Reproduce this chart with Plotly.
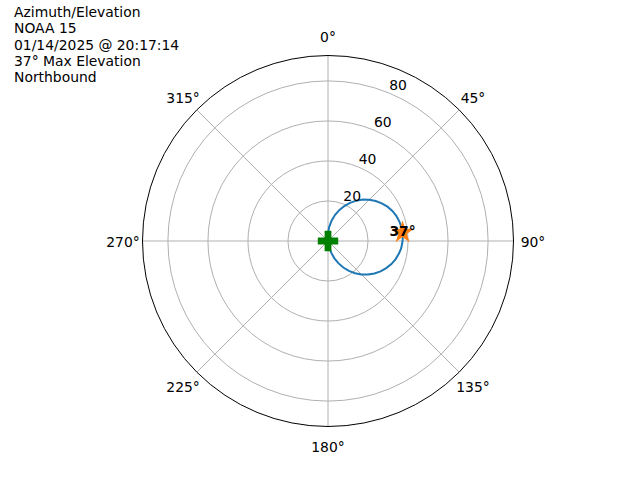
import plotly.graph_objects as go

# Pass track: azimuth (deg) and elevation (deg)
azimuth = [-6, -3, 0, 5, 10, 15, 20, 25, 30, 35, 40, 45, 50, 55, 60, 65, 70, 75, 80, 84,
           88, 92, 96, 100, 105, 110, 115, 120, 125, 130, 135, 140, 145, 150, 155, 160,
           165, 170, 174]
elevation = [0, 2.0, 3.9, 7.1, 10.3, 13.4, 16.4, 19.3, 22.0, 24.6, 27.0, 29.1, 31.1, 32.8,
             34.3, 35.5, 36.4, 37.0, 37.4, 37.5, 37.4, 37.1, 36.7, 36.0, 35.0, 33.7, 32.1,
             30.3, 28.3, 26.1, 23.6, 21.0, 18.2, 15.3, 12.2, 9.1, 5.9, 2.6, 0]

start_az = [0]
start_el = [0]
max_az = [83.5]
max_el = [37.5]
max_label = ["<b>37°</b>"]

title_lines = ["Azimuth/Elevation", "NOAA 15", "01/14/2025 @ 20:17:14", "37° Max Elevation", "Northbound"]

angle_ticks = [0, 45, 90, 135, 180, 225, 270, 315]
angle_labels = ["0°", "45°", "90°", "135°", "180°", "225°", "270°", "315°"]
radial_ticks = [20, 40, 60, 80]
radial_labels = ["20", "40", "60", "80"]

FONT = "DejaVu Sans"
FS = 13.9
RMAX = 92.7
RLABEL_ANGLE = 22.5

# geometry (pixels): plot centre and rim radius, label ring radius
CX, CY, R_RIM, R_LAB = 328, 241, 185.5, 215.0
LABEL_DY = 3.0               # baseline correction for text-centred labels
LABEL_RING = 205.0 / R_LAB   # angle labels centred 205 px from centre (matplotlib style)


def dom(radius, dy=0.0):
    cy = CY + dy
    return dict(x=[(CX - radius) / 640, (CX + radius) / 640],
                y=[(480 - cy - radius) / 480, (480 - cy + radius) / 480])


fig = go.Figure()
fig.add_trace(go.Scatterpolar(
    r=elevation, theta=azimuth, mode="lines",
    line=dict(color="#1f77b4", width=2), showlegend=False, hoverinfo="skip"))
fig.add_trace(go.Scatterpolar(
    r=start_el, theta=start_az, mode="markers",
    marker=dict(symbol="cross", color="#008000", size=17, line=dict(width=0)), showlegend=False))
fig.add_trace(go.Scatterpolar(
    r=max_el, theta=max_az, mode="markers",
    marker=dict(symbol="star", color="#ff7f0e", size=17, line=dict(width=0)), showlegend=False))
fig.add_trace(go.Scatterpolar(
    r=max_el, theta=max_az, mode="text", text=max_label,
    textposition="middle center",
    textfont=dict(family=FONT, size=FS, color="black"), showlegend=False))
# radial tick labels (matplotlib style: placed along the 22.5 deg direction)
fig.add_trace(go.Scatterpolar(
    r=radial_ticks, theta=[RLABEL_ANGLE] * len(radial_ticks), mode="text",
    text=radial_labels, textposition="top right",
    textfont=dict(family=FONT, size=FS, color="black"),
    showlegend=False, hoverinfo="skip"))
# angular tick labels on an invisible outer polar frame, centred on a ring
fig.add_trace(go.Scatterpolar(
    r=[LABEL_RING] * len(angle_ticks), theta=angle_ticks, mode="text",
    text=angle_labels, textposition="middle center", subplot="polar2",
    textfont=dict(family=FONT, size=FS, color="black"),
    showlegend=False, hoverinfo="skip"))

annotations = []
for i, line in enumerate(title_lines):
    annotations.append(dict(
        text=line, xref="paper", yref="paper",
        x=11.5 / 640, y=1 - (12.3 + 16.1 * i) / 480,
        xanchor="left", yanchor="middle", align="left",
        showarrow=False, font=dict(family=FONT, size=FS, color="black")))

fig.update_layout(
    width=640, height=480,
    margin=dict(l=0, r=0, t=0, b=0),
    paper_bgcolor="white",
    font=dict(family=FONT, size=FS, color="black"),
    polar=dict(
        domain=dom(R_RIM),
        bgcolor="white",
        angularaxis=dict(
            rotation=90, direction="clockwise",
            tickmode="array", tickvals=angle_ticks, ticktext=angle_labels,
            showline=True, linecolor="black", linewidth=1,
            showgrid=True, gridcolor="#b0b0b0", gridwidth=0.8,
            ticks="", showticklabels=False,
        ),
        radialaxis=dict(
            range=[0, RMAX],
            tickmode="array", tickvals=radial_ticks,
            showline=False, ticks="", showticklabels=False,
            showgrid=True, gridcolor="#b0b0b0", gridwidth=0.8,
        ),
    ),
    polar2=dict(
        domain=dom(R_LAB, LABEL_DY),
        bgcolor="rgba(0,0,0,0)",
        angularaxis=dict(rotation=90, direction="clockwise", showline=False,
                         showgrid=False, ticks="", showticklabels=False),
        radialaxis=dict(range=[0, 1], showline=False, showgrid=False,
                        ticks="", showticklabels=False),
    ),
    annotations=annotations,
)

fig.write_html("out.html", config={"displayModeBar": False},
               post_script="document.body.style.margin='0';")
